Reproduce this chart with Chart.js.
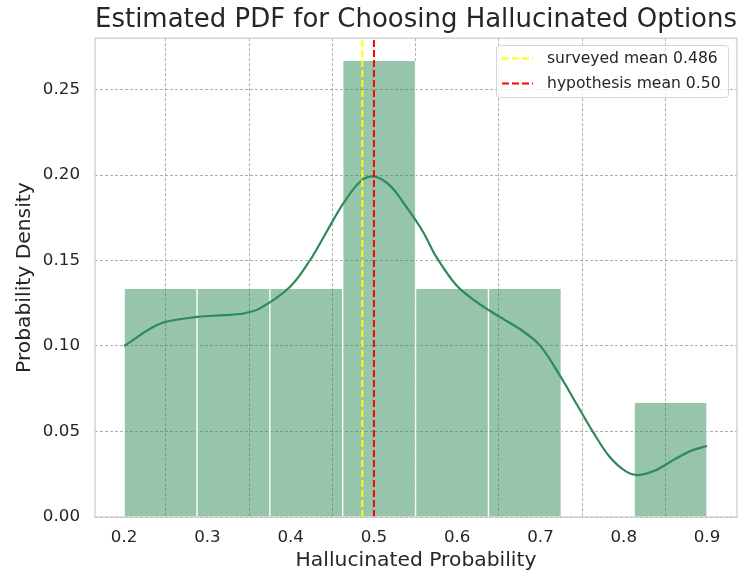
<!DOCTYPE html>
<html>
<head>
<meta charset="utf-8">
<script src="https://cdn.jsdelivr.net/npm/chart.js@4.4.0/dist/chart.umd.min.js"></script>
<style>
  html, body { margin: 0; padding: 0; background: #fff; }
  #wrap { width: 740px; height: 573px; }
</style>
</head>
<body>
<div id="wrap"><canvas id="chart" width="740" height="573"></canvas></div>
<script>
// histogram bins (probability per bin)
const binCenters = [0.24375, 0.33125, 0.41875, 0.50625, 0.59375, 0.68125, 0.76875, 0.85625];
const binHeights = [0.1333, 0.1333, 0.1333, 0.2667, 0.1333, 0.1333, 0, 0.0667];

// KDE curve
const kdeX = [0.2, 0.243, 0.288, 0.320, 0.343, 0.363, 0.399, 0.423, 0.443, 0.463, 0.483, 0.499, 0.519, 0.539, 0.559, 0.575, 0.599, 0.623, 0.651, 0.675, 0.699, 0.723, 0.743, 0.763, 0.783, 0.803, 0.817, 0.839, 0.863, 0.883, 0.9];
const kdeY = [0.100, 0.113, 0.117, 0.118, 0.119, 0.122, 0.1345, 0.150, 0.1667, 0.1832, 0.1959, 0.1992, 0.1939, 0.1813, 0.1667, 0.152, 0.1355, 0.1258, 0.117, 0.110, 0.1005, 0.083, 0.0664, 0.0498, 0.0352, 0.0265, 0.0245, 0.0275, 0.0343, 0.0391, 0.0415];

// mean lines
const meanLabels = ['surveyed mean 0.486', 'hypothesis mean 0.50'];
const meanValues = [0.486, 0.50];
const meanColors = ['#ffff00', '#ff0000'];

const xTicks = [0.2, 0.3, 0.4, 0.5, 0.6, 0.7, 0.8, 0.9];
const yTicks = [0, 0.05, 0.10, 0.15, 0.20, 0.25];
const xMin = 0.165, xMax = 0.936, yMax = 0.28;

const FONT = "'DejaVu Sans', sans-serif";
const TXT = '#262626';

const histData = binCenters.map((c, i) => ({ x: c, y: binHeights[i] }));
const kdeData = kdeX.map((x, i) => ({ x: x, y: kdeY[i] }));

const datasets = [
  {
    type: 'bar',
    label: 'hist',
    data: histData,
    backgroundColor: 'rgba(46,139,87,0.5)',
    borderColor: '#ffffff',
    borderWidth: { left: 1, right: 1, top: 0, bottom: 0 },
    borderSkipped: false,
    barPercentage: 1,
    categoryPercentage: 1,
    order: 3
  },
  {
    type: 'line',
    label: 'kde',
    data: kdeData,
    borderColor: '#2e8b57',
    borderWidth: 2.2,
    pointRadius: 0,
    tension: 0.35,
    fill: false,
    order: 2
  }
];
for (let i = 0; i < meanValues.length; i++) {
  datasets.push({
    type: 'line',
    label: meanLabels[i],
    data: [{ x: meanValues[i], y: 0 }, { x: meanValues[i], y: yMax }],
    borderColor: meanColors[i],
    borderWidth: 2,
    borderDash: [7, 3],
    pointRadius: 0,
    fill: false,
    order: 1
  });
}

// frame around the plot + legend inside the plot
const framePlugin = {
  id: 'frame',
  afterDraw(chart) {
    const ctx = chart.ctx;
    const a = chart.chartArea;
    ctx.save();
    ctx.strokeStyle = '#cccccc';
    ctx.lineWidth = 1.25;
    ctx.strokeRect(a.left, a.top, a.right - a.left, a.bottom - a.top);

    // legend
    const bx = 496, by = 45, bw = 232, bh = 52;
    ctx.fillStyle = 'rgba(255,255,255,0.8)';
    ctx.strokeStyle = '#d6d6d6';
    ctx.lineWidth = 1;
    ctx.beginPath();
    ctx.roundRect(bx + 0.5, by + 0.5, bw, bh, 3);
    ctx.fill();
    ctx.stroke();
    ctx.font = '15.6px ' + FONT;
    ctx.textBaseline = 'middle';
    for (let i = 0; i < meanLabels.length; i++) {
      const yy = by + 13.5 + i * 25;
      ctx.strokeStyle = meanColors[i];
      ctx.lineWidth = 2;
      ctx.setLineDash([7, 3]);
      ctx.beginPath();
      ctx.moveTo(bx + 6, yy);
      ctx.lineTo(bx + 37, yy);
      ctx.stroke();
      ctx.setLineDash([]);
      ctx.fillStyle = TXT;
      ctx.fillText(meanLabels[i], bx + 51, yy);
    }
    ctx.restore();
  }
};

new Chart(document.getElementById('chart'), {
  type: 'bar',
  data: { datasets: datasets },
  options: {
    responsive: false,
    animation: false,
    layout: { padding: { left: 0, right: 3, top: 0, bottom: 0 } },
    plugins: {
      legend: { display: false },
      tooltip: { enabled: false },
      title: {
        display: true,
        text: 'Estimated PDF for Choosing Hallucinated Options',
        fullSize: false,
        color: TXT,
        font: { family: FONT, size: 26, weight: 'normal' },
        padding: { top: 5, bottom: 2 }
      }
    },
    scales: {
      x: {
        type: 'linear',
        min: xMin,
        max: xMax,
        offset: false,
        afterBuildTicks: (s) => { s.ticks = xTicks.map(v => ({ value: v })); },
        afterFit: (s) => { s.height = 56; },
        grid: { color: '#9a9a9a', lineWidth: 0.8, drawTicks: false },
        border: { display: false, dash: [3, 2] },
        ticks: {
          color: TXT,
          padding: 11,
          maxRotation: 0,
          font: { family: FONT, size: 16.7 },
          callback: (v) => v.toFixed(1)
        },
        title: {
          display: true,
          text: 'Hallucinated Probability',
          color: TXT,
          font: { family: FONT, size: 20.3 },
          padding: { top: 0, bottom: 0 }
        }
      },
      y: {
        min: 0,
        max: yMax,
        afterBuildTicks: (s) => { s.ticks = yTicks.map(v => ({ value: v })); },
        afterFit: (s) => { s.width = 95; },
        grid: { color: '#9a9a9a', lineWidth: 0.8, drawTicks: false },
        border: { display: false, dash: [3, 2] },
        ticks: {
          color: TXT,
          padding: 15,
          font: { family: FONT, size: 16.7 },
          callback: (v) => v.toFixed(2)
        },
        title: {
          display: true,
          text: 'Probability Density',
          color: TXT,
          font: { family: FONT, size: 20.3 },
          padding: { top: 13, bottom: 0 }
        }
      }
    }
  },
  plugins: [framePlugin]
});
</script>
</body>
</html>
